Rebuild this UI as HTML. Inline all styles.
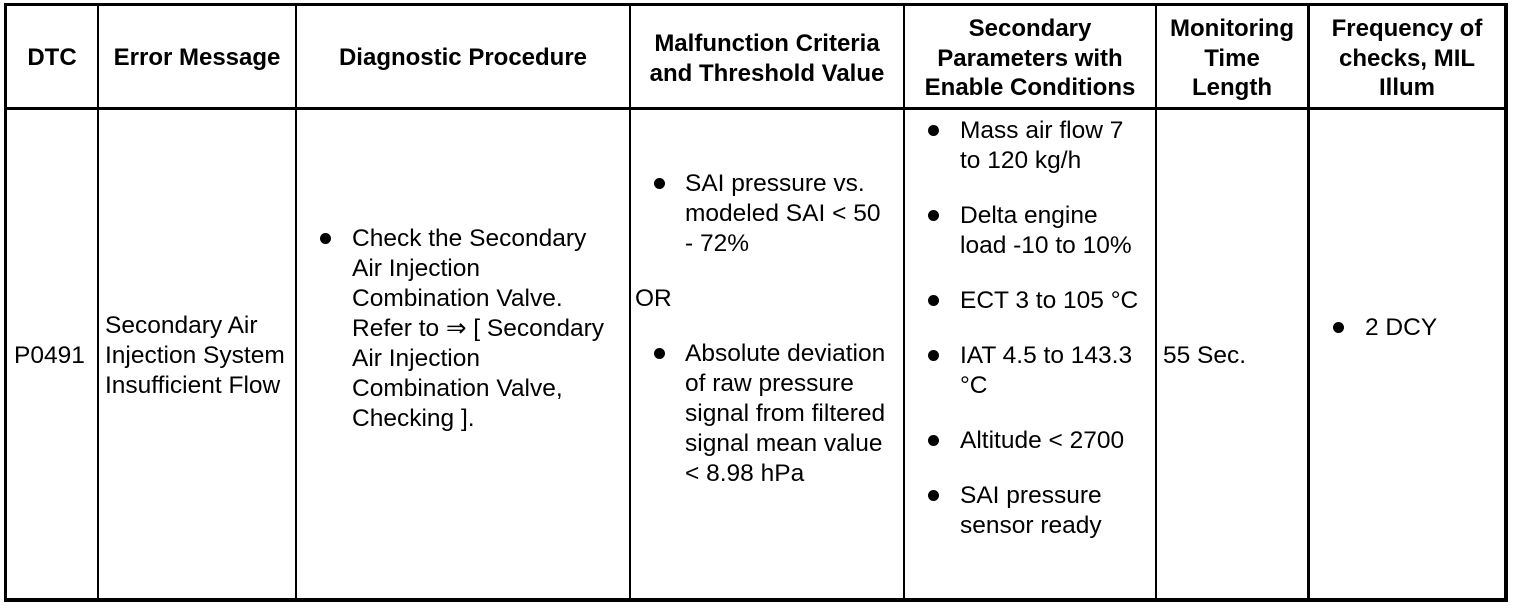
<!DOCTYPE html><html><head><style>
body{margin:0;width:1520px;height:608px;background:#fff;position:relative;overflow:hidden;font-family:"Liberation Sans",sans-serif;font-size:24.5px;color:#000}
.l{position:absolute;background:#000}
.t{position:absolute;line-height:30px;white-space:nowrap}
.h{position:absolute;font-weight:bold;font-size:24px;text-align:center;line-height:29.5px;white-space:nowrap}
.b{position:absolute;width:11px;height:11px;border-radius:50%;background:#000}
</style></head><body>
<div class="l" style="left:4px;top:3px;width:1503px;height:3px"></div>
<div class="l" style="left:4px;top:598px;width:1503px;height:4px"></div>
<div class="l" style="left:4px;top:3px;width:3px;height:599px"></div>
<div class="l" style="left:1504px;top:3px;width:4px;height:599px"></div>
<div class="l" style="left:4px;top:107px;width:1503px;height:3px"></div>
<div class="l" style="left:97px;top:3px;width:2px;height:599px"></div>
<div class="l" style="left:295px;top:3px;width:2px;height:599px"></div>
<div class="l" style="left:629px;top:3px;width:2px;height:599px"></div>
<div class="l" style="left:903px;top:3px;width:2px;height:599px"></div>
<div class="l" style="left:1155px;top:3px;width:2px;height:599px"></div>
<div class="l" style="left:1307px;top:3px;width:3px;height:599px"></div>

<div class="h" style="left:7px;width:90px;top:43px">DTC</div>
<div class="h" style="left:99px;width:196px;top:43px">Error Message</div>
<div class="h" style="left:297px;width:332px;top:43px">Diagnostic Procedure</div>
<div class="h" style="left:631px;width:272px;top:29px">Malfunction Criteria<br>and Threshold Value</div>
<div class="h" style="left:905px;width:250px;top:14px">Secondary<br>Parameters with<br>Enable Conditions</div>
<div class="h" style="left:1157px;width:150px;top:14px">Monitoring<br>Time<br>Length</div>
<div class="h" style="left:1310px;width:194px;top:14px">Frequency of<br>checks, MIL<br>Illum</div>

<div class="t" style="left:14px;top:341px">P0491</div>
<div class="t" style="left:105px;top:311px">Secondary Air<br>Injection System<br>Insufficient Flow</div>
<div class="b" style="left:320px;top:233px"></div>
<div class="t" style="left:352px;top:224px">Check the Secondary<br>Air Injection<br>Combination Valve.<br>Refer to ⇒ [ Secondary<br>Air Injection<br>Combination Valve,<br>Checking ].</div>
<div class="b" style="left:654px;top:178px"></div>
<div class="t" style="left:685px;top:169px">SAI pressure vs.<br>modeled SAI &lt; 50<br>- 72%</div>
<div class="t" style="left:635px;top:284px">OR</div>
<div class="b" style="left:654px;top:348px"></div>
<div class="t" style="left:685px;top:339px">Absolute deviation<br>of raw pressure<br>signal from filtered<br>signal mean value<br>&lt; 8.98 hPa</div>
<div class="b" style="left:928px;top:125px"></div>
<div class="t" style="left:960px;top:116px">Mass air flow 7<br>to 120 kg/h</div>
<div class="b" style="left:928px;top:210px"></div>
<div class="t" style="left:960px;top:201px">Delta engine<br>load -10 to 10%</div>
<div class="b" style="left:928px;top:295px"></div>
<div class="t" style="left:960px;top:286px">ECT 3 to 105 °C</div>
<div class="b" style="left:928px;top:350px"></div>
<div class="t" style="left:960px;top:341px">IAT 4.5 to 143.3<br>°C</div>
<div class="b" style="left:928px;top:435px"></div>
<div class="t" style="left:960px;top:426px">Altitude &lt; 2700</div>
<div class="b" style="left:928px;top:490px"></div>
<div class="t" style="left:960px;top:481px">SAI pressure<br>sensor ready</div>
<div class="t" style="left:1163px;top:341px">55 Sec.</div>
<div class="b" style="left:1333px;top:322px"></div>
<div class="t" style="left:1365px;top:313px">2 DCY</div>
</body></html>
